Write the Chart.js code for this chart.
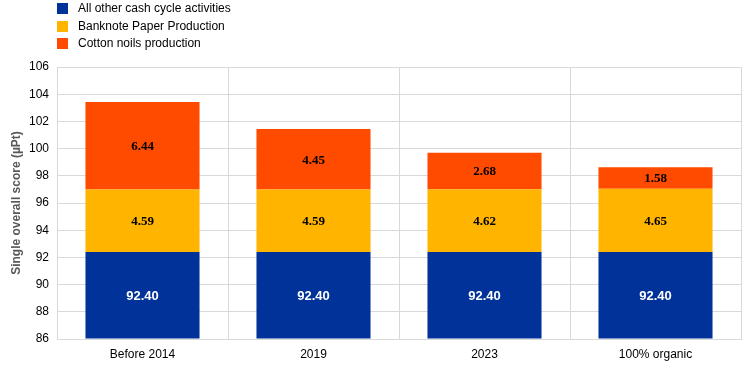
<!DOCTYPE html>
<html><head><meta charset="utf-8">
<script src="https://cdn.jsdelivr.net/npm/chart.js@4"></script>
<style>
html,body{margin:0;padding:0;background:#fff;}
#wrap{position:relative;width:744px;height:367px;}
#legend{position:absolute;left:57px;top:0px;font:12px "Liberation Sans",Arial,sans-serif;color:#000;}
#legend div{height:17.5px;line-height:17px;display:flex;align-items:center;}
#legend span.sw{display:inline-block;width:11px;height:11px;margin-right:10px;}
</style></head>
<body><div id="wrap"><canvas id="c" width="744" height="367"></canvas><div id="legend"></div></div>
<script>
const categories = ["Before 2014", "2019", "2023", "100% organic"];
const seriesNames = ["All other cash cycle activities", "Banknote Paper Production", "Cotton noils production"];
const otherActivities = [92.40, 92.40, 92.40, 92.40];
const paperProduction = [4.59, 4.59, 4.62, 4.65];
const cottonNoils = [6.44, 4.45, 2.68, 1.58];
const colors = ["#003299", "#FFB400", "#FF4B00"];
const yMin = 86, yMax = 106, yStep = 2;

const leg = document.getElementById('legend');
seriesNames.forEach((n,i)=>{
  const d=document.createElement('div');
  d.innerHTML='<span class="sw" style="background:'+colors[i]+'"></span>'+n;
  leg.appendChild(d);
});

const labelPlugin = {
  id:'barLabels',
  afterDatasetsDraw(chart){
    const ctx=chart.ctx;
    chart.data.datasets.forEach((ds,di)=>{
      const meta=chart.getDatasetMeta(di);
      meta.data.forEach((bar,i)=>{
        const top=bar.y, bottom=bar.base;
        const y=(top+bottom)/2;
        ctx.save();
        if(di===0){ctx.fillStyle='#fff';ctx.font='bold 13px "Liberation Sans",Arial,sans-serif';}
        else {ctx.fillStyle='#000';ctx.font='bold 13px "Liberation Serif","Times New Roman",serif';}
        ctx.textAlign='center';ctx.textBaseline='middle';
        ctx.fillText(ds.data[i].toFixed(2), bar.x, y+1);
        ctx.restore();
      });
    });
  }
};

const datasets=[otherActivities,paperProduction,cottonNoils].map((d,i)=>({
  label:seriesNames[i], data:d, backgroundColor:colors[i], borderWidth:0,
  barPercentage:0.667, categoryPercentage:1.0
}));
datasets[0].base = yMin;

new Chart(document.getElementById('c'),{
  type:'bar',
  data:{labels:categories,datasets},
  options:{
    responsive:false, animation:false, devicePixelRatio:1,
    layout:{padding:{top:67,right:3,left:0,bottom:0}},
    plugins:{legend:{display:false},tooltip:{enabled:false}},
    scales:{
      x:{stacked:true,
        grid:{color:'#d9d9d9',offset:true,drawTicks:false},
        border:{color:'#d9d9d9'},
        ticks:{color:'#000',padding:8,font:{family:'"Liberation Sans",Arial,sans-serif',size:12}},
        afterFit(s){s.height=28;}
      },
      y:{stacked:true,min:yMin,max:yMax,
        grid:{color:'#d9d9d9',drawTicks:false},
        border:{color:'#d9d9d9'},
        ticks:{stepSize:yStep,color:'#000',padding:8,font:{family:'"Liberation Sans",Arial,sans-serif',size:12}},
        title:{display:true,text:'Single overall score (µPt)',color:'#595959',padding:{top:9,bottom:4},font:{family:'"Liberation Sans",Arial,sans-serif',size:12,weight:'bold'}},
        afterFit(s){s.width=57;}
      }
    }
  },
  plugins:[labelPlugin]
});
</script></body></html>
